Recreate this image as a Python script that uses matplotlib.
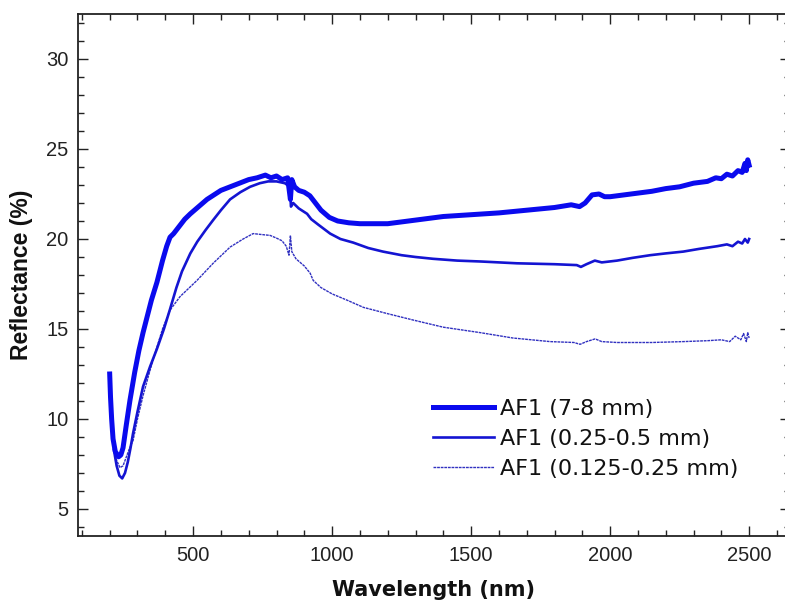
import matplotlib
matplotlib.use("Agg")
import matplotlib.pyplot as plt
from matplotlib.ticker import MultipleLocator

# ---- data ----
wl_thick = [200, 203, 207, 212, 220, 232, 240, 248, 260, 273, 290, 305, 320, 350, 370, 390, 405, 417,
            430, 450, 470, 490, 520, 550, 600, 650, 700, 730, 760, 780, 800, 820, 840, 850, 855, 865,
            880, 900, 920, 935, 960, 990, 1020, 1060, 1100, 1150, 1200, 1250, 1300, 1350, 1400, 1500,
            1600, 1700, 1800, 1860, 1890, 1910, 1935, 1960, 1980, 2000, 2050, 2100, 2150, 2200, 2250,
            2300, 2350, 2380, 2400, 2420, 2440, 2460, 2475, 2485, 2490, 2495, 2500]
r_thick = [12.5, 11.2, 10.0, 8.9, 8.2, 7.9, 8.0, 8.4, 9.7, 11.05, 12.6, 13.8, 14.8, 16.6, 17.6, 18.8, 19.6, 20.1,
           20.3, 20.7, 21.1, 21.4, 21.8, 22.2, 22.7, 23.0, 23.3, 23.4, 23.55, 23.4, 23.5, 23.3, 23.4, 22.2, 23.3, 22.9,
           22.7, 22.6, 22.4, 22.1, 21.6, 21.2, 21.0, 20.9, 20.85, 20.85, 20.85, 20.95, 21.05, 21.15, 21.25, 21.35,
           21.45, 21.6, 21.75, 21.9, 21.8, 22.0, 22.45, 22.5, 22.35, 22.35, 22.45, 22.55, 22.65, 22.8, 22.9,
           23.1, 23.2, 23.4, 23.35, 23.6, 23.5, 23.8, 23.7, 24.2, 23.8, 24.4, 24.1]

wl_mid = [215, 225, 235, 245, 255, 265, 275, 284, 300, 320, 345, 370, 395, 417, 440, 460, 490, 515, 545,
          572, 600, 633, 670, 705, 740, 770, 800, 830, 848, 852, 860, 880, 910, 925, 950, 993, 1030, 1076,
          1130, 1183, 1250, 1300, 1363, 1450, 1535, 1665, 1800, 1880, 1895, 1915, 1945, 1970, 2025, 2080,
          2144, 2200, 2263, 2320, 2385, 2420, 2440, 2460, 2475, 2485, 2495, 2500]
r_mid = [8.3, 7.4, 6.85, 6.7, 7.0, 7.6, 8.4, 9.2, 10.4, 11.8, 12.9, 13.9, 15.0, 16.1, 17.3, 18.2, 19.2, 19.85, 20.5,
         21.05, 21.6, 22.2, 22.6, 22.9, 23.1, 23.2, 23.2, 23.1, 22.9, 21.8, 22.0, 21.7, 21.4, 21.1, 20.8, 20.3, 20.0, 19.8,
         19.5, 19.3, 19.1, 19.0, 18.9, 18.8, 18.75, 18.65, 18.6, 18.55, 18.45, 18.6, 18.8, 18.7, 18.8, 18.95,
         19.1, 19.2, 19.3, 19.45, 19.6, 19.7, 19.6, 19.85, 19.75, 20.0, 19.8, 20.0]

wl_fine = [215, 225, 237, 248, 260, 272, 284, 300, 320, 345, 370, 390, 417, 453, 514, 572, 633, 680, 716,
           745, 777, 800, 820, 835, 845, 850, 855, 870, 900, 921, 932, 960, 1000, 1054, 1113, 1200, 1291,
           1400, 1532, 1650, 1784, 1870, 1892, 1915, 1946, 1970, 2025, 2150, 2263, 2350, 2400, 2430, 2450,
           2470, 2480, 2490, 2495, 2500]
r_fine = [8.4, 7.7, 7.3, 7.4, 7.9, 8.4, 8.8, 10.0, 11.3, 12.7, 14.0, 15.0, 16.05, 16.8, 17.7, 18.65, 19.55, 20.0, 20.3,
          20.25, 20.2, 20.05, 19.9, 19.6, 19.1, 20.2, 19.3, 18.9, 18.5, 18.1, 17.7, 17.3, 16.95, 16.6, 16.2, 15.85, 15.5,
          15.1, 14.8, 14.5, 14.3, 14.25, 14.15, 14.3, 14.45, 14.3, 14.25, 14.25, 14.3, 14.35, 14.4, 14.3, 14.6,
          14.4, 14.75, 14.3, 14.8, 14.5]

labels = ["AF1 (7-8 mm)", "AF1 (0.25-0.5 mm)", "AF1 (0.125-0.25 mm)"]
x_major = [500, 1000, 1500, 2000, 2500]
y_major = [5, 10, 15, 20, 25, 30]

# ---- figure ----
W, H = 785, 605
fig = plt.figure(figsize=(W / 100, H / 100), dpi=100)
L, R, T, B = 78, 790, 14, 536
ax = fig.add_axes([L / W, (H - B) / H, (R - L) / W, (B - T) / H])

ax.plot(wl_thick, r_thick, color="#0a0aee", lw=3.6, solid_joinstyle="round", label=labels[0], zorder=3)
ax.plot(wl_mid, r_mid, color="#1414d2", lw=1.9, label=labels[1], zorder=2)
ax.plot(wl_fine, r_fine, color="#3030c0", lw=1.0, ls=(0, (2.0, 0.6)), label=labels[2], zorder=1)

ax.set_xlim(86, 2647)
ax.set_ylim(3.5, 32.5)
ax.set_xticks(x_major)
ax.set_yticks(y_major)
ax.xaxis.set_minor_locator(MultipleLocator(100))
ax.yaxis.set_minor_locator(MultipleLocator(1))
ax.tick_params(which="both", direction="in", top=True, right=True, width=1.0, color="#222222")
ax.tick_params(which="major", length=7.5, pad=7, labelsize=14.5, labelcolor="#222222")
ax.tick_params(which="minor", length=4.5)
for lab in ax.get_xticklabels() + ax.get_yticklabels():
    lab.set_family("Liberation Sans")
for s in ax.spines.values():
    s.set_linewidth(1.3)
    s.set_color("#222222")

ax.set_xlabel("Wavelength (nm)", fontsize=15, fontweight="bold", family="DejaVu Sans", color="#111111")
ax.set_ylabel("Reflectance (%)", fontsize=16.5, fontweight="bold", family="Liberation Sans", color="#111111")
ax.xaxis.set_label_coords((434 - L) / (R - L), -(580 - B) / (B - T))
ax.yaxis.set_label_coords((33 - L) / (R - L), 0.5)

leg = ax.legend(loc="upper left", bbox_to_anchor=(433 / W, 1 - 399 / H), bbox_transform=fig.transFigure,
                frameon=False, borderpad=0, borderaxespad=0, handlelength=2.75, handletextpad=0.25,
                labelspacing=0.45, prop={"family": "DejaVu Sans", "size": 16})
for t in leg.get_texts():
    t.set_color("#111111")

fig.savefig("out.png", dpi=100)
